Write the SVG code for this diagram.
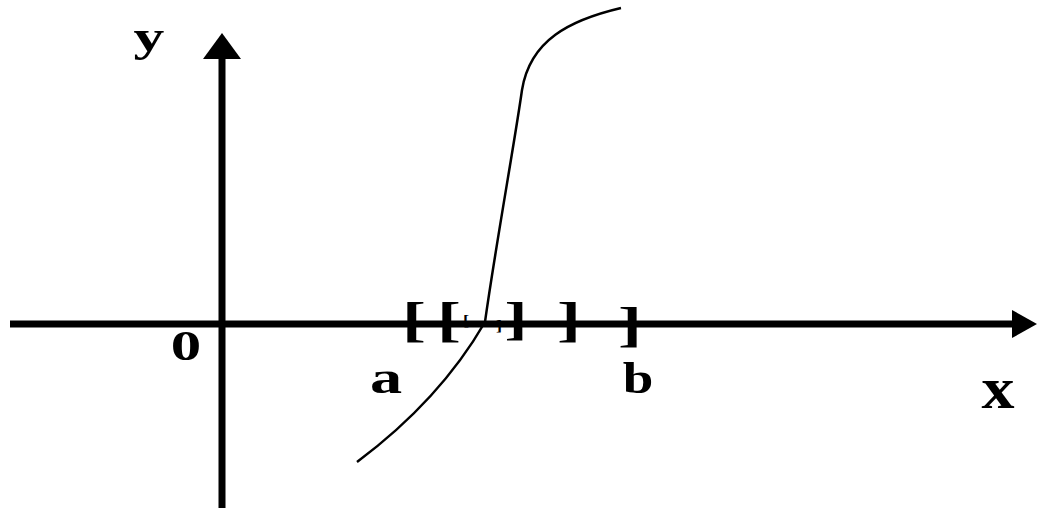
<svg xmlns="http://www.w3.org/2000/svg" width="1038" height="512" viewBox="0 0 1038 512">
<style>
.lbl{font-family:"Liberation Serif","Times New Roman",serif;font-weight:bold;fill:#000;text-anchor:middle}
.axis{stroke:#000;stroke-width:7;fill:none}
</style>
<rect width="1038" height="512" fill="#fff"/>
<g id="axes">
<line class="axis" x1="10" y1="324" x2="1014" y2="324"/>
<polygon points="1037,324 1012,310 1012,338" fill="#000"/>
<line class="axis" x1="222" y1="508" x2="222" y2="55"/>
<polygon points="222,33 203,59 241,59" fill="#000"/>
</g>
<g id="curve">
<path d="M357,462 Q440,400 485,322 C495,250 515,140 522,90 C530,40 570,20 621,8" fill="none" stroke="#000" stroke-width="2.5"/>
</g>
<g id="brackets">
<text class="lbl" font-size="48" transform="translate(414,336) scale(1.5,1)">[</text>
<text class="lbl" font-size="48" transform="translate(449,336) scale(1.5,1)">[</text>
<text class="lbl" font-size="14" transform="translate(466,325) scale(1.3,1)">[</text>
<text class="lbl" font-size="14" transform="translate(499,330) scale(1.3,1)">]</text>
<text class="lbl" font-size="46" transform="translate(516,334) scale(1.5,1)">]</text>
<text class="lbl" font-size="48" transform="translate(569,336) scale(1.5,1)">]</text>
<text class="lbl" font-size="48" transform="translate(630,341) scale(1.5,1)">]</text>
</g>
<g id="labels">
<text class="lbl" font-size="44" transform="translate(149,51) scale(1.4,1)">y</text>
<text class="lbl" font-size="42" transform="translate(186,360) scale(1.45,1)">0</text>
<text class="lbl" font-size="46" transform="translate(386,393) scale(1.4,1)">a</text>
<text class="lbl" font-size="44" transform="translate(638,393) scale(1.25,1)">b</text>
<text class="lbl" font-size="60" transform="translate(998,408) scale(1.1,1)">x</text>
</g>
</svg>
